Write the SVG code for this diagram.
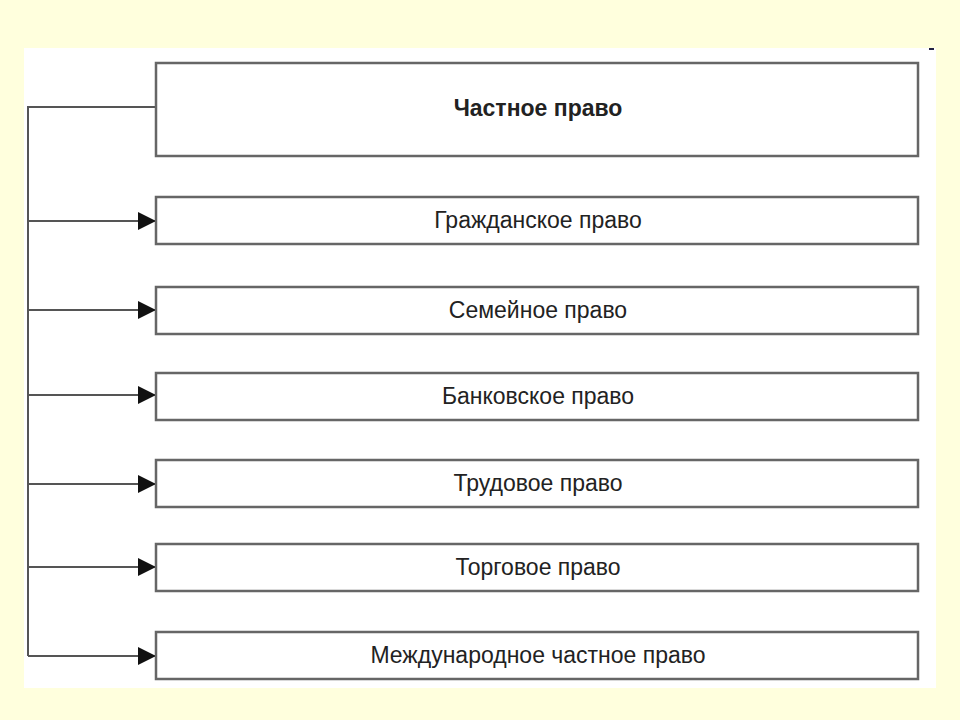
<svg xmlns="http://www.w3.org/2000/svg" width="960" height="720" viewBox="0 0 960 720">
<defs><style>
.b{fill:#fff;stroke:#666;stroke-width:2.5}
.t{font-family:"Liberation Sans",Arial,sans-serif;font-size:23px;fill:#222;text-anchor:middle}
.c{fill:none;stroke:#555;stroke-width:2}
</style>
<marker id="ar" viewBox="0 0 10 10" refX="10" refY="5" markerWidth="18" markerHeight="18" markerUnits="userSpaceOnUse" orient="auto"><path d="M0,0L10,5L0,10z" fill="#111"/></marker>
</defs>
<rect width="960" height="720" fill="#FFFFDD"/>
<rect x="24" y="48" width="912" height="640" fill="#fff"/>
<rect x="929" y="48" width="5" height="2" fill="#224"/>
<g id="connectors">
<path class="c" d="M156,107H28V656"/>
<path class="c" marker-end="url(#ar)" d="M28,221H156"/>
<path class="c" marker-end="url(#ar)" d="M28,310H156"/>
<path class="c" marker-end="url(#ar)" d="M28,395H156"/>
<path class="c" marker-end="url(#ar)" d="M28,484H156"/>
<path class="c" marker-end="url(#ar)" d="M28,567H156"/>
<path class="c" marker-end="url(#ar)" d="M28,656H156"/>
</g>
<g id="n0"><rect class="b" x="156" y="63" width="762" height="93"/><text class="t" x="538" y="116" font-weight="bold">Частное право</text></g>
<g id="n1"><rect class="b" x="156" y="197" width="762" height="47"/><text class="t" x="538" y="228">Гражданское право</text></g>
<g id="n2"><rect class="b" x="156" y="287" width="762" height="47"/><text class="t" x="538" y="318">Семейное право</text></g>
<g id="n3"><rect class="b" x="156" y="373" width="762" height="47"/><text class="t" x="538" y="404">Банковское право</text></g>
<g id="n4"><rect class="b" x="156" y="460" width="762" height="47"/><text class="t" x="538" y="491">Трудовое право</text></g>
<g id="n5"><rect class="b" x="156" y="544" width="762" height="47"/><text class="t" x="538" y="575">Торговое право</text></g>
<g id="n6"><rect class="b" x="156" y="632" width="762" height="47"/><text class="t" x="538" y="663">Международное частное право</text></g>
</svg>
